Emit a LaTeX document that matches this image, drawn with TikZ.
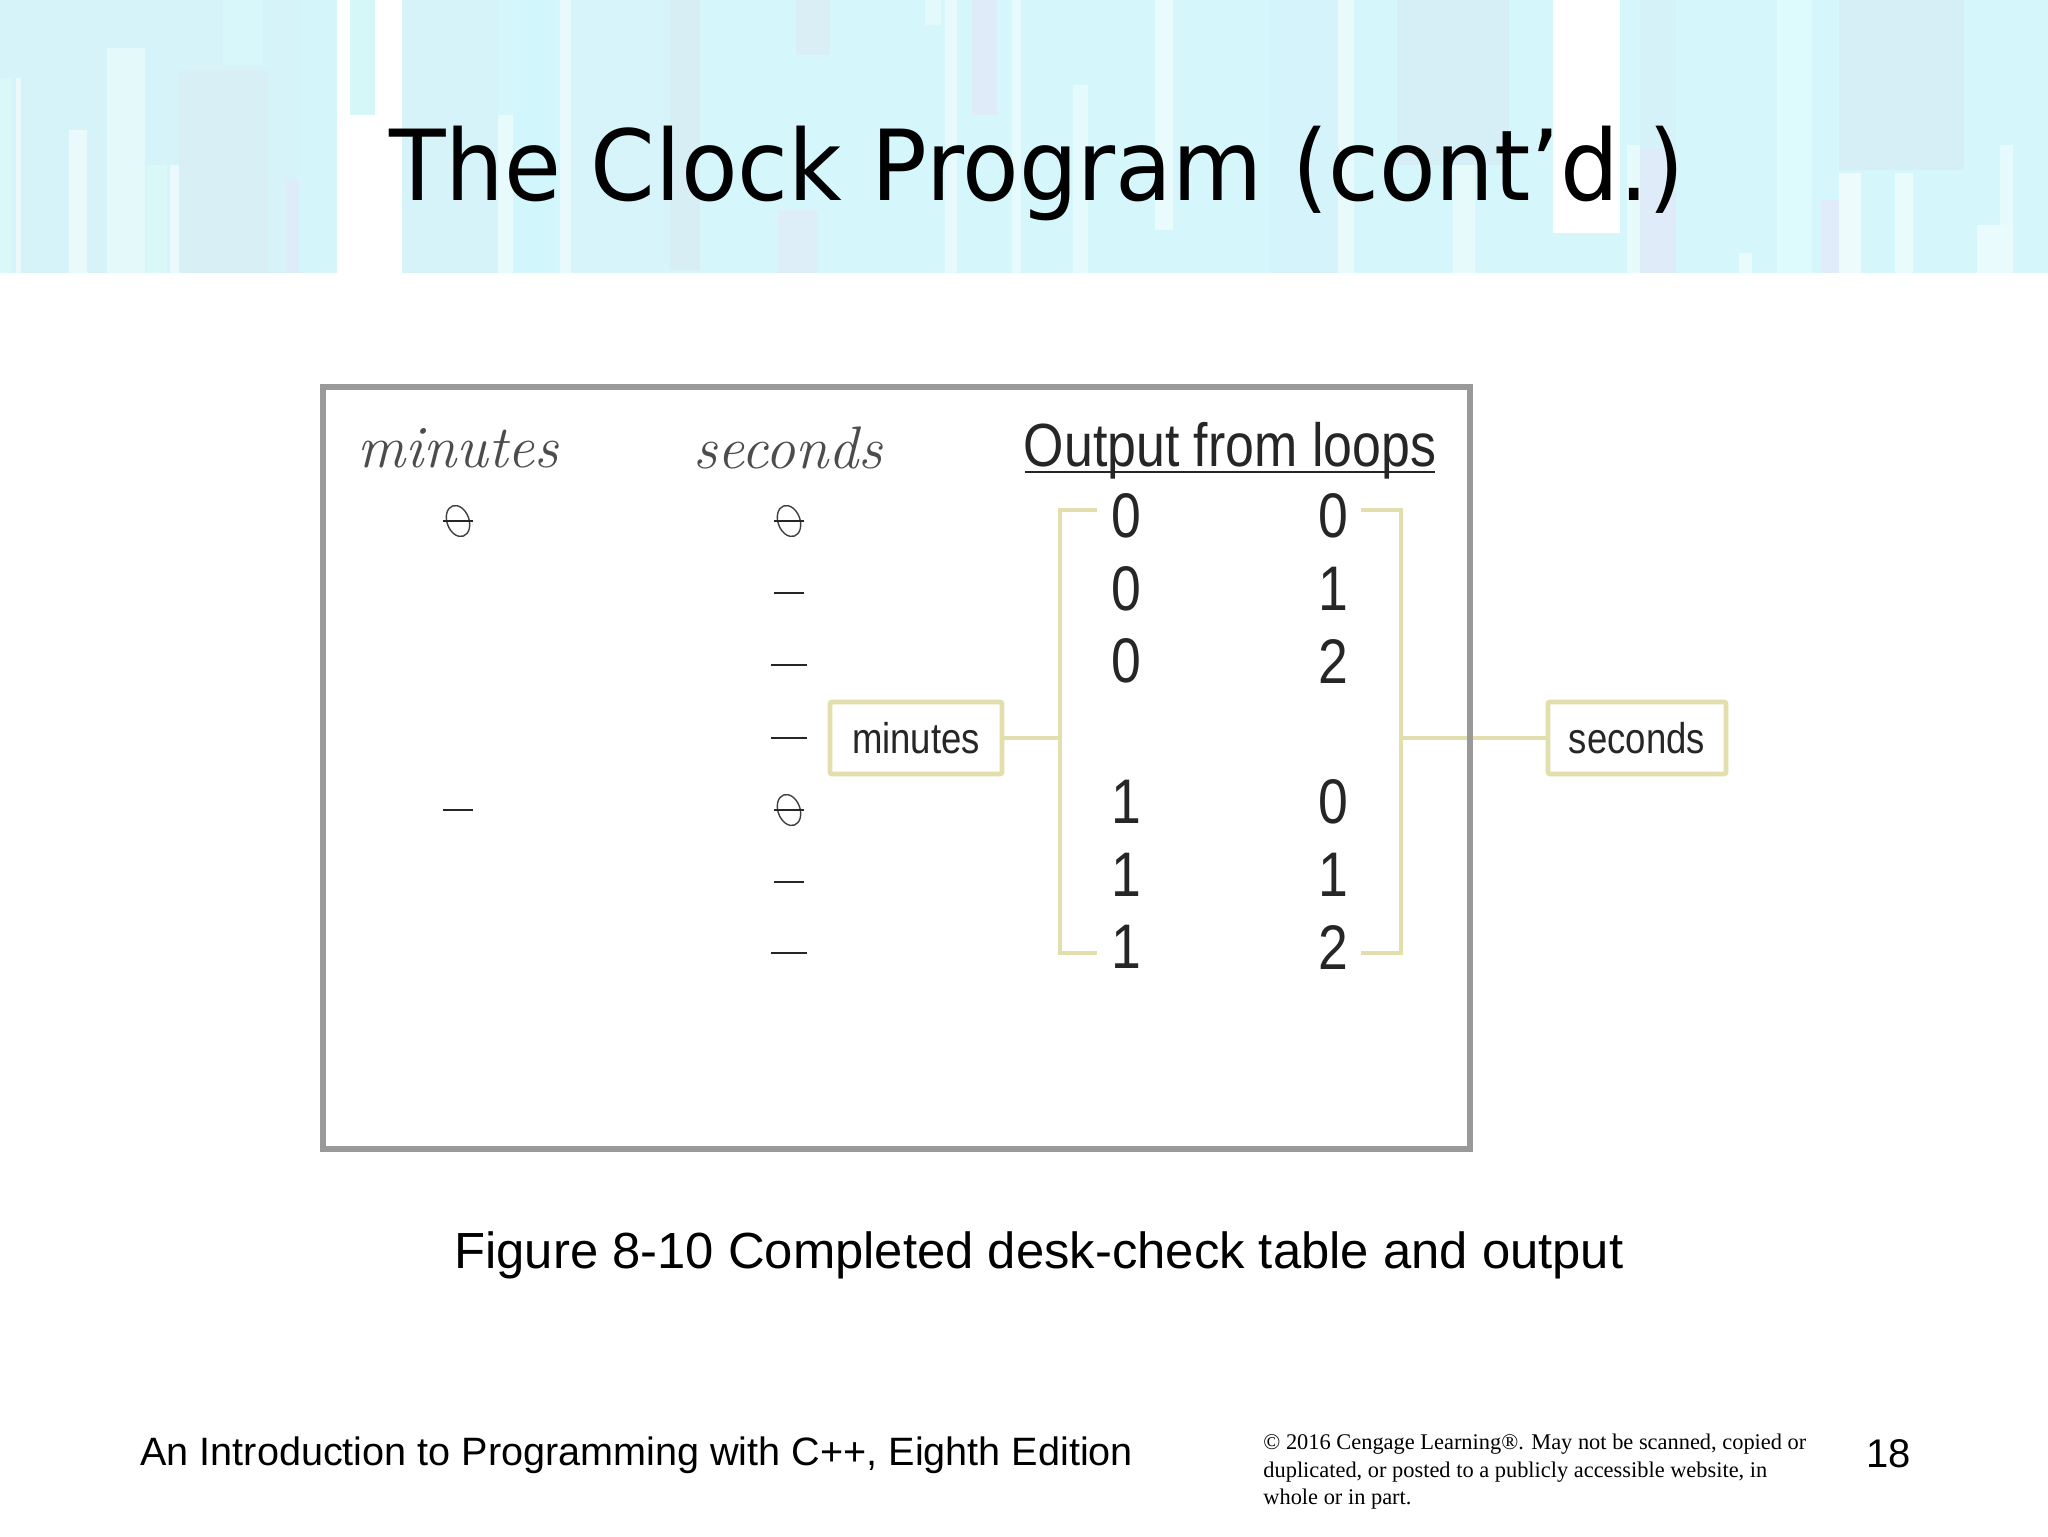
\documentclass[tikz,border=0pt]{standalone}
\usepackage{fontspec}
\usetikzlibrary{positioning, shapes.geometric}

\newfontfamily\titlefont[FakeStretch=0.945]{DejaVu Sans}
\newfontfamily\arialfont{Liberation Sans}
\newfontfamily\narrowfont[FakeStretch=0.85]{Liberation Sans}
\newfontfamily\timesfont{Liberation Serif}

\definecolor{stripebase}{HTML}{D5F6FB}
\definecolor{calloutcol}{HTML}{E2DFAC}
\definecolor{framecol}{HTML}{999999}

\tikzset{
    digit/.style={font=\narrowfont\fontsize{31.5}{31.5}\selectfont, text=black!85, inner sep=0pt},
    handhead/.style={font=\itshape\fontsize{30}{30}\selectfont, text=black!70, inner sep=0pt},
    tally/.style={fill=black!85, minimum width=#1, minimum height=1.4pt, inner sep=0pt},
    tally/.default=15pt,
    zero/.style={ellipse, draw=black!75, line width=0.7pt, rotate=20, minimum width=11pt, minimum height=16pt, inner sep=0pt},
    strike/.style={draw=black!85, line width=1.4pt},
    callout/.style={draw=calloutcol, line width=2.4pt},
    calloutbox/.style={callout, text=black!85, font=\narrowfont\fontsize{21.5}{21.5}\selectfont, minimum width=86pt, minimum height=36pt, inner sep=0pt, rounded corners=1pt}
}

\begin{document}
\begin{tikzpicture}[x=0.5pt, y=-0.5pt]
    \useasboundingbox (0,0) rectangle (2048,1536);
    \fill[white] (0,0) rectangle (2048,1536);

    % header stripes
    \fill[stripebase] (0,0) rectangle (2048,273);
    \foreach \xa/\xb/\ya/\yb/\stripe in {
        0/337/0/273/D8F2FA, 0/11/78/273/DFFBF7, 16/21/78/273/F4FDFE, 69/87/130/273/F6FDFE,
        107/145/48/273/EBFDFB, 147/167/165/273/DDFBF7, 170/179/165/273/F6FEFE, 179/268/70/273/DBEEF5,
        223/263/0/65/D8FAFB, 286/299/180/273/E3E8F8, 299/337/0/273/D3F9FC,
        350/375/0/115/D5F8F5, 402/498/0/273/D9F2FA,
        498/513/115/273/F2FDFE, 513/558/0/273/D0F6FB, 560/571/0/273/F3FDFD, 571/700/0/273/D8F3F9,
        670/700/0/270/D8ECF2, 796/830/0/55/DCECF2, 778/818/210/273/E4EAF8, 925/941/0/25/ECFDFD,
        945/957/0/273/F0FDFD, 972/997/0/115/E6E6FA, 1012/1021/0/273/EEFDFD, 1073/1088/85/273/EEFDFD,
        1155/1173/0/230/F5FEFE, 1271/1338/0/273/D6F2FB, 1338/1354/0/273/F3FDFE, 1397/1509/0/165/D8ECF5,
        1453/1475/165/273/F0FDFD, 1627/1640/145/273/F0FDFD, 1640/1676/0/273/D8F0F8,
        1640/1676/150/273/E4E8F8, 1739/1752/253/273/F5FEFE, 1777/1812/0/273/E2FDFD, 1821/1839/200/273/E6E8F8,
        1839/1964/0/170/D8EBF3, 1839/1861/173/273/FAFEFE, 1895/1913/173/273/F5FEFE, 1977/2013/225/273/F5FEFE,
        2000/2013/145/225/EEFDFD
    } {
        \definecolor{stripecol}{HTML}{\stripe}
        \fill[stripecol, fill opacity=0.65] (\xa,\ya) rectangle (\xb,\yb);
    }
    \foreach \xa/\xb/\ya/\yb in {337/350/0/273, 375/402/0/273, 337/402/115/273, 1553/1620/0/233} {
        \fill[white] (\xa,\ya) rectangle (\xb,\yb);
    }

    \node[font=\titlefont\fontsize{49}{49}\selectfont, anchor=base] (title) at (1037,200) {The Clock Program (cont’d.)};

    % desk-check columns
    \node[handhead] (minhead) at (458,448) {minutes};
    \node[handhead] (sechead) at (788,448) {seconds};

    \node[zero] (m1) at (458,521) {};
    \draw[strike] (443,521) -- (473,521);
    \node[tally] (m2) at (458,810) {};

    \node[zero] (s1) at (789,521) {};
    \draw[strike] (774,521) -- (804,521);
    \node[tally] (s2) at (789,593) {};
    \node[tally=18pt] (s3) at (789,665) {};
    \node[tally=18pt] (s4) at (789,738) {};
    \node[zero] (s5) at (789,810) {};
    \draw[strike] (774,810) -- (804,810);
    \node[tally] (s6) at (789,882) {};
    \node[tally=18pt] (s7) at (789,953) {};

    % output digits
    \node[digit, font=\narrowfont\fontsize{30.5}{30.5}\selectfont, anchor=base] (outhead) at (1230,466) {Output from loops};
    \draw[draw=black!85, line width=1.2pt] (1025,472) -- (1435,472);

    \node[digit] (a1) at (1126,516) {0};
    \node[digit, below of=a1, node distance=36.25pt] (a2) {0};
    \node[digit, below of=a2, node distance=36.25pt] (a3) {0};
    \node[digit, below of=a3, node distance=70.5pt] (a4) {1};
    \node[digit, below of=a4, node distance=36.25pt] (a5) {1};
    \node[digit, below of=a5, node distance=36.25pt] (a6) {1};

    \node[digit] (b1) at (1333,516) {0};
    \node[digit, below of=b1, node distance=36.25pt] (b2) {1};
    \node[digit, below of=b2, node distance=36.25pt] (b3) {2};
    \node[digit, below of=b3, node distance=70.5pt] (b4) {0};
    \node[digit, below of=b4, node distance=36.25pt] (b5) {1};
    \node[digit, below of=b5, node distance=36.25pt] (b6) {2};

    % brackets and their labels
    \node[calloutbox] (minbox) at (916,738) {minutes};
    \node[calloutbox, minimum width=89pt] (secbox) at (1637,738) {seconds};

    \coordinate (lefttop) at (1097,510);
    \coordinate (leftbot) at (1097,953);
    \coordinate (leftmid) at (1060,738);
    \coordinate (righttop) at (1361,510);
    \coordinate (rightbot) at (1361,953);
    \coordinate (rightmid) at (1401,738);

    \draw[callout] (lefttop) -| (leftmid) |- (leftbot);
    \draw[callout] (righttop) -| (rightmid) |- (rightbot);
    \draw[callout] (minbox) -- (leftmid);
    \draw[callout] (rightmid) -- (secbox);

    \node[draw=framecol, line width=2.6pt, minimum width=573.5pt, minimum height=381pt, inner sep=0pt] (frame) at (896.5,768) {};

    % caption and footer
    \node[font=\arialfont\fontsize{25.4}{25.4}\selectfont, anchor=base west, inner sep=0pt] (caption) at (454,1268) {Figure 8-10 Completed desk-check table and output};
    \node[font=\arialfont\fontsize{19.8}{19.8}\selectfont, anchor=base west, inner sep=0pt] (book) at (140,1465) {An Introduction to Programming with C++, Eighth Edition};
    \node[font=\timesfont\fontsize{11.2}{13.75}\selectfont, anchor=north west, align=left, inner sep=0pt] (rights) at (1263,1434) {© 2016 Cengage Learning®. May not be scanned, copied or\\duplicated, or posted to a publicly accessible website, in\\whole or in part.};
    \node[font=\arialfont\fontsize{20}{20}\selectfont, anchor=base west, inner sep=0pt] (pagenum) at (1866,1467) {18};
\end{tikzpicture}
\end{document}
